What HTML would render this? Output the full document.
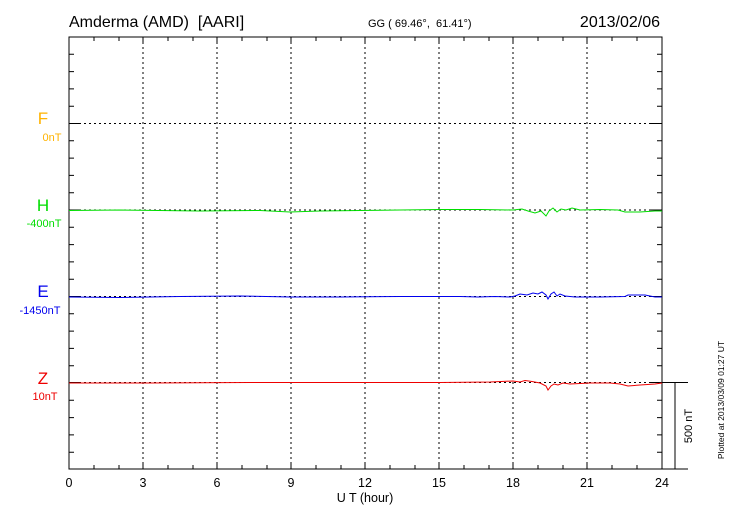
<!DOCTYPE html>
<html><head><meta charset="utf-8"><style>body{margin:0;background:#fff}svg{display:block;font-family:"Liberation Sans",sans-serif}</style></head><body>
<svg width="730" height="520" viewBox="0 0 730 520">
<text x="69" y="27" font-size="16">Amderma (AMD)&#160; [AARI]</text>
<text x="368" y="27" font-size="11">GG ( 69.46°,&#160; 61.41°)</text>
<text x="660" y="27" font-size="16" text-anchor="end">2013/02/06</text>
<g stroke="#000" stroke-width="1" stroke-dasharray="2,3">
<line x1="143" y1="37" x2="143" y2="469"/><line x1="217" y1="37" x2="217" y2="469"/><line x1="291" y1="37" x2="291" y2="469"/><line x1="365" y1="37" x2="365" y2="469"/><line x1="439" y1="37" x2="439" y2="469"/><line x1="513" y1="37" x2="513" y2="469"/><line x1="587" y1="37" x2="587" y2="469"/>
<line x1="69" y1="123.5" x2="662" y2="123.5"/><line x1="69" y1="210" x2="662" y2="210"/><line x1="69" y1="296.5" x2="662" y2="296.5"/><line x1="69" y1="382.5" x2="662" y2="382.5"/>
</g>
<rect x="69" y="37" width="593" height="432" fill="none" stroke="#000"/>
<path d="M94 37v4M119 37v4M168 37v4M193 37v4M242 37v4M267 37v4M316 37v4M341 37v4M390 37v4M415 37v4M464 37v4M489 37v4M538 37v4M563 37v4M612 37v4M637 37v4M94 469v-4M119 469v-4M168 469v-4M193 469v-4M242 469v-4M267 469v-4M316 469v-4M341 469v-4M390 469v-4M415 469v-4M464 469v-4M489 469v-4M538 469v-4M563 469v-4M612 469v-4M637 469v-4
M143 37v6M217 37v6M291 37v6M365 37v6M439 37v6M513 37v6M587 37v6M143 469v-6M217 469v-6M291 469v-6M365 469v-6M439 469v-6M513 469v-6M587 469v-6
M69 54.3h5M69 71.6h5M69 88.9h5M69 106.2h5M69 140.8h5M69 158.1h5M69 175.4h5M69 192.7h5M69 227.3h5M69 244.6h5M69 261.9h5M69 279.2h5M69 313.8h5M69 331.1h5M69 348.4h5M69 365.7h5M69 400.3h5M69 417.6h5M69 434.9h5M69 452.2h5
M662 54.3h-5M662 71.6h-5M662 88.9h-5M662 106.2h-5M662 140.8h-5M662 158.1h-5M662 175.4h-5M662 192.7h-5M662 227.3h-5M662 244.6h-5M662 261.9h-5M662 279.2h-5M662 313.8h-5M662 331.1h-5M662 348.4h-5M662 365.7h-5M662 400.3h-5M662 417.6h-5M662 434.9h-5M662 452.2h-5
M69 123.5h12M69 210h12M69 296.5h12M69 382.5h12M662 123.5h-12M662 210h-12M662 296.5h-12M662 382.5h-12
M662 382.5h26M662 469h26M675 382.5v86.5" stroke="#000" fill="none"/>
<polyline fill="none" stroke="#00dd00" points="69,210.5 120,210 200,211 260,210.5 290,212 320,211 360,210.5 400,210 440,209.5 480,209.5 513,210 522,209 528,211 535,213 541,211 546,216 549,211 553,208 557,212 561,209 566,210 572,208 580,210 600,209.5 618,210 625,212 640,212 655,211 662,211"/>
<polyline fill="none" stroke="#0000ee" points="69,297 120,297.5 180,296.5 240,296 290,297 340,297 400,296.5 460,296.5 478,297 495,296.5 510,297 515,296 520,294 527,295 533,293 538,294 542,292 546,295 548,299 551,294 554,292 557,296 560,294 565,296 575,297 600,297 625,296.5 628,295 645,295 655,297 662,297"/>
<polyline fill="none" stroke="#ee0000" points="69,383 150,383 250,382.5 350,382.5 440,382.5 490,382 513,381 520,382 525,380.5 532,381.5 540,383 546,386 548,390 551,386 554,384 558,385 563,383 570,384 590,383 610,383 620,384 628,386 640,385 655,384 662,383"/>
<g font-size="12.5" text-anchor="middle">
<text x="69" y="487">0</text><text x="143" y="487">3</text><text x="217" y="487">6</text><text x="291" y="487">9</text><text x="365" y="487">12</text><text x="439" y="487">15</text><text x="513" y="487">18</text><text x="587" y="487">21</text><text x="662" y="487">24</text>
<text x="365" y="502">U T (hour)</text></g>
<g text-anchor="middle">
<text x="43" y="124" font-size="17" fill="#ffb300">F</text><text x="52" y="141" font-size="11" fill="#ffb300">0nT</text>
<text x="43" y="211" font-size="17" fill="#00dd00">H</text><text x="44" y="227" font-size="11" fill="#00dd00">-400nT</text>
<text x="43" y="297" font-size="17" fill="#0000ee">E</text><text x="40" y="314" font-size="11" fill="#0000ee">-1450nT</text>
<text x="43" y="384" font-size="17" fill="#ee0000">Z</text><text x="45" y="400" font-size="11" fill="#ee0000">10nT</text>
</g>
<text transform="translate(692,426) rotate(-90)" font-size="11" text-anchor="middle">500 nT</text>
<text transform="translate(724,400) rotate(-90)" font-size="8.5" text-anchor="middle">Plotted at 2013/03/09 01:27 UT</text>
</svg>
</body></html>
